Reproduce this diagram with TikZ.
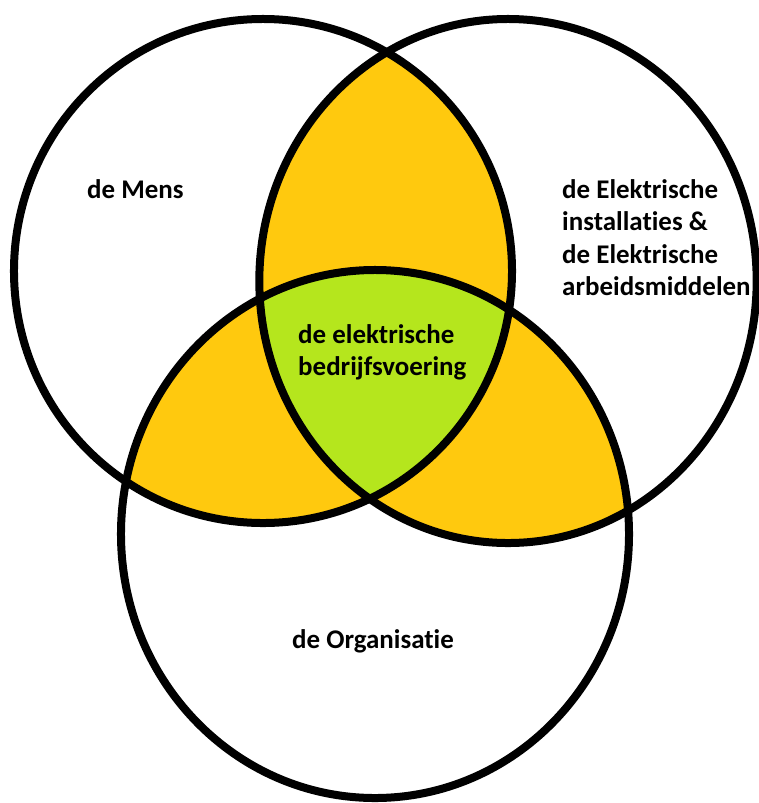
\documentclass[tikz,border=0pt]{standalone}
\usepackage{fontspec}
\setmainfont{Carlito}[Ligatures=NoCommon]
\definecolor{gold}{RGB}{255,201,14}
\definecolor{lime}{RGB}{181,230,29}
\begin{document}
\begin{tikzpicture}[x=0.03cm,y=-0.03cm,
  ring/.style={line width=0.24cm, draw=black},
  lbl/.style={font=\bfseries\fontsize{23}{27.8}\selectfont, text=black, inner sep=0pt, align=left, anchor=north west}]
\useasboundingbox[fill=white] (0,0) rectangle (759,803);
\def\cA{(263,271) ellipse [x radius=7.47cm, y radius=7.56cm]}
\def\cB{(508,281) ellipse [x radius=7.46cm, y radius=7.86cm]}
\def\cC{(375,534) ellipse [x radius=7.62cm, y radius=7.92cm]}
% pairwise overlaps
\begin{scope}\clip \cA; \fill[gold] \cB; \end{scope}
\begin{scope}\clip \cA; \fill[gold] \cC; \end{scope}
\begin{scope}\clip \cB; \fill[gold] \cC; \end{scope}
% triple overlap
\begin{scope}\clip \cA; \clip \cB; \fill[lime] \cC; \end{scope}
% outlines
\draw[ring] \cA;
\draw[ring] \cB;
\draw[ring] \cC;
% labels
\node[lbl] (mens) at (87,179) {de Mens};
\node[lbl] (inst) at (562,179) {de Elektrische\\installaties \&\\de Elektrische\\arbeidsmiddelen};
\node[lbl] (bedr) at (298,324) {de elektrische\\bedrijfsvoering};
\node[lbl] (org) at (292,629) {de Organisatie};
\end{tikzpicture}
\end{document}
